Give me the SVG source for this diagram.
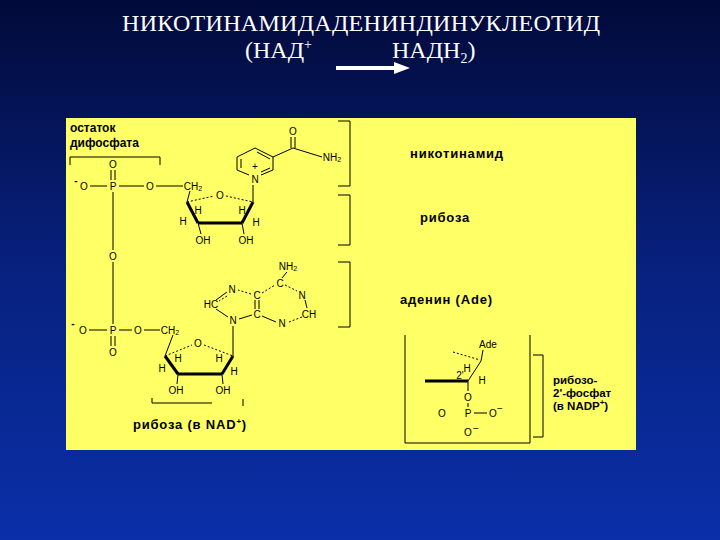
<svg xmlns="http://www.w3.org/2000/svg" width="720" height="540" viewBox="0 0 720 540">
<defs>
<linearGradient id="bg" x1="0" y1="0" x2="0" y2="1"><stop offset="0" stop-color="#020a3a"/><stop offset="0.5" stop-color="#07217e"/><stop offset="1" stop-color="#0a2fa8"/></linearGradient>
</defs>
<style>
.t{font-family:"Liberation Serif",serif;fill:#fff;font-size:24px}
.b{font-family:"Liberation Sans",Arial,sans-serif;font-size:13px;font-weight:bold;fill:#000;letter-spacing:0.8px}
.r{font-family:"Liberation Sans",Arial,sans-serif;font-size:11.5px;font-weight:bold;fill:#000}
.a{font-family:"Liberation Sans",Arial,sans-serif;font-size:10px;fill:#000;text-anchor:middle;dominant-baseline:central}
line,polyline,path{stroke:#000;stroke-width:1;fill:none}
.k{stroke-width:3}
.d{stroke-dasharray:2 2}
</style>
<rect width="720" height="540" fill="url(#bg)"/>
<g id="title">
<text class="t" x="361" y="31" text-anchor="middle" textLength="478">НИКОТИНАМИДАДЕНИНДИНУКЛЕОТИД</text>
<text class="t" x="245" y="58">(НАД<tspan font-size="14" dy="-9">+</tspan></text>
<text class="t" x="392" y="58">НАДН<tspan font-size="14" dy="5">2</tspan><tspan dy="-5">)</tspan></text>
<line x1="336" y1="68" x2="396" y2="68" style="stroke:#fff;stroke-width:4"/>
<polygon points="394,62 410,68 394,74" fill="#fff"/>
</g>
<rect id="panel" x="66" y="118" width="570" height="332" fill="#ffff66"/>
<g id="labels">
<text class="r" x="70" y="132" style="font-size:12px">остаток</text>
<text class="r" x="70" y="147" style="font-size:12px">дифосфата</text>
<text class="b" x="410" y="158">никотинамид</text>
<text class="b" x="420" y="222">рибоза</text>
<text class="b" x="400" y="304">аденин (Ade)</text>
<text class="b" x="133" y="429">рибоза (в NAD<tspan font-size="8" dy="-5">+</tspan><tspan dy="5">)</tspan></text>
<text class="r" x="553" y="384">рибозо-</text>
<text class="r" x="553" y="397">2'-фосфат</text>
<text class="r" x="553" y="410">(в NADP<tspan font-size="8" dy="-5">+</tspan><tspan dy="5">)</tspan></text>
</g>
<g id="brackets">
<polyline points="70,165 70,157 160,157 160,165"/>
<polyline points="338,121 350,121 350,186 338,186"/>
<polyline points="338,195 350,195 350,245 338,245"/>
<polyline points="338,262 350,262 350,327 338,327"/>
<polyline points="152,398 152,403 212,403"/>
<line x1="243" y1="399" x2="243" y2="406"/>
<polyline points="405,335 405,443 530,443 530,335"/>
<polyline points="533,355 543,355 543,437 533,437"/>
</g>
<g id="atoms">
<text class="a" x="113" y="164">O</text>
<text class="a" x="113" y="186">P</text>
<text class="a" x="84" y="186">O</text>
<text class="a" x="76" y="180" font-weight="bold">-</text>
<text class="a" x="150" y="186">O</text>
<text class="a" x="193" y="186">CH<tspan font-size="7" dy="2">2</tspan></text>
<text class="a" x="113" y="256">O</text>
<text class="a" x="255" y="179">N</text>
<text class="a" x="255" y="166">+</text>
<text class="a" x="293" y="131">O</text>
<text class="a" x="332" y="157">NH<tspan font-size="7" dy="2">2</tspan></text>
<text class="a" x="220" y="195">O</text>
<text class="a" x="198" y="210">H</text>
<text class="a" x="183" y="221">H</text>
<text class="a" x="242" y="210">H</text>
<text class="a" x="256" y="222">H</text>
<text class="a" x="203" y="240">OH</text>
<text class="a" x="246" y="240">OH</text>
<text class="a" x="113" y="330">P</text>
<text class="a" x="83" y="330">O</text>
<text class="a" x="73" y="323" font-weight="bold">-</text>
<text class="a" x="138" y="330">O</text>
<text class="a" x="170" y="330">CH<tspan font-size="7" dy="2">2</tspan></text>
<text class="a" x="113" y="352">O</text>
<text class="a" x="288" y="266">NH<tspan font-size="7" dy="2">2</tspan></text>
<text class="a" x="280" y="283">C</text>
<text class="a" x="302" y="295">N</text>
<text class="a" x="309" y="314">CH</text>
<text class="a" x="282" y="323">N</text>
<text class="a" x="257" y="314">C</text>
<text class="a" x="257" y="295">C</text>
<text class="a" x="232" y="289">N</text>
<text class="a" x="211" y="304">HC</text>
<text class="a" x="233" y="320">N</text>
<text class="a" x="198" y="343">O</text>
<text class="a" x="178" y="358">H</text>
<text class="a" x="162" y="368">H</text>
<text class="a" x="219" y="358">H</text>
<text class="a" x="234" y="371">H</text>
<text class="a" x="176" y="390">OH</text>
<text class="a" x="223" y="390">OH</text>
<text class="a" x="488" y="344">Ade</text>
<text class="a" x="467" y="368">H</text>
<text class="a" x="460" y="375" font-size="8">2'</text>
<text class="a" x="482" y="380">H</text>
<text class="a" x="468" y="397">O</text>
<text class="a" x="468" y="413">P</text>
<text class="a" x="442" y="413">O</text>
<text class="a" x="493" y="413">O</text>
<text class="a" x="500" y="408">−</text>
<text class="a" x="468" y="432">O</text>
<text class="a" x="476" y="428">−</text>
</g>
<g id="bonds">
<line x1="111" y1="170" x2="111" y2="180"/><line x1="115" y1="170" x2="115" y2="180"/>
<line x1="90" y1="186" x2="107" y2="186"/><line x1="119" y1="186" x2="144" y2="186"/><line x1="156" y1="186" x2="183" y2="186"/>
<line x1="113" y1="192" x2="113" y2="250"/><line x1="113" y1="262" x2="113" y2="324"/>
<line x1="89" y1="330" x2="107" y2="330"/><line x1="119" y1="330" x2="132" y2="330"/><line x1="144" y1="330" x2="160" y2="330"/>
<line x1="111" y1="336" x2="111" y2="346"/><line x1="115" y1="336" x2="115" y2="346"/>
<polyline points="249,175 237,170 237,157 255,148 273,157 273,170 261,175"/>
<line x1="241" y1="168" x2="241" y2="159"/><line x1="257" y1="152" x2="270" y2="159"/><line x1="270" y1="168" x2="261" y2="172"/>
<polyline points="273,157 293,148"/><line x1="291" y1="137" x2="291" y2="148"/><line x1="295" y1="137" x2="295" y2="148"/><line x1="293" y1="148" x2="322" y2="157"/>
<line x1="253" y1="185" x2="253" y2="202"/>
<line x1="190" y1="191" x2="187" y2="202"/>
<line class="d" x1="187" y1="202" x2="214" y2="196"/><line class="d" x1="226" y1="196" x2="253" y2="202"/>
<line class="k" x1="187" y1="202" x2="198" y2="223"/><line class="k" x1="253" y1="202" x2="242" y2="223"/><line class="k" x1="198" y1="223" x2="242" y2="223"/>
<line x1="198" y1="223" x2="201" y2="234"/><line x1="242" y1="223" x2="244" y2="234"/>
<line x1="287" y1="272" x2="282" y2="278"/>
<line class="d" x1="285" y1="285" x2="297" y2="291"/><line x1="305" y1="300" x2="307" y2="308"/>
<line class="d" x1="302" y1="317" x2="289" y2="322"/><line x1="276" y1="322" x2="262" y2="316"/>
<line x1="255" y1="300" x2="255" y2="309"/><line x1="259" y1="300" x2="259" y2="309"/>
<line class="d" x1="262" y1="293" x2="275" y2="285"/>
<line class="d" x1="251" y1="294" x2="238" y2="290"/>
<line x1="227" y1="292" x2="216" y2="300"/><line class="d" x1="227" y1="296" x2="219" y2="301"/>
<line x1="216" y1="309" x2="228" y2="317"/><line x1="239" y1="319" x2="252" y2="315"/>
<line x1="233" y1="326" x2="233" y2="356"/>
<line x1="173" y1="335" x2="165" y2="356"/>
<line class="d" x1="165" y1="356" x2="192" y2="345"/><line class="d" x1="204" y1="345" x2="233" y2="356"/>
<line class="k" x1="165" y1="356" x2="178" y2="374"/><line class="k" x1="233" y1="356" x2="222" y2="374"/><line class="k" x1="178" y1="374" x2="222" y2="374"/>
<line x1="178" y1="374" x2="177" y2="384"/><line x1="222" y1="374" x2="223" y2="384"/>
<line class="d" x1="453" y1="352" x2="480" y2="360"/>
<line x1="483" y1="350" x2="481" y2="361"/>
<line class="k" x1="425" y1="381" x2="468" y2="381"/>
<line x1="468" y1="381" x2="481" y2="361"/>
<line x1="468" y1="381" x2="468" y2="391"/><line x1="468" y1="403" x2="468" y2="407"/>
<line x1="474" y1="413" x2="487" y2="413"/>
</g>
</svg>
